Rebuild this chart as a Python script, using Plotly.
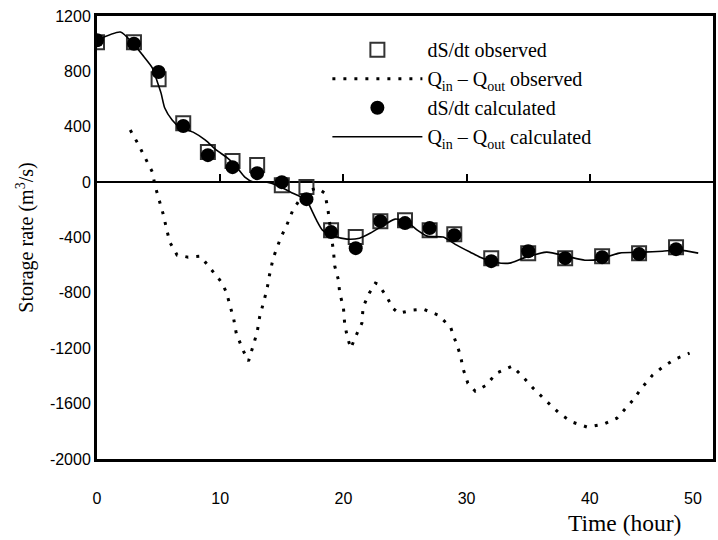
import plotly.graph_objects as go

t_obs = [0, 3, 5, 7, 9, 11, 13, 15, 17, 19, 21, 23, 25, 27, 29, 32, 35, 38, 41, 44, 47]
dsdt_observed = [1011, 1011, 744, 426, 217, 152, 123, -22, -36, -347, -397, -282,
                 -275, -347, -376, -549, -513, -549, -535, -513, -470]
dsdt_calculated = [1025, 1000, 795, 405, 195, 108, 65, 0, -123, -361, -477, -282,
                   -296, -332, -383, -571, -499, -549, -542, -520, -484]

t_qobs = [2.7, 3.3, 4.5, 4.7, 5.35, 5.6, 5.9, 6.5, 7.4, 8.4, 9.3, 10.1, 10.5, 10.8,
          11.1, 11.3, 11.85, 12.3, 12.7, 13.0, 13.2, 13.5, 13.8, 14.0, 14.3, 14.9,
          15.4, 15.9, 16.6, 17.3, 17.9, 18.5, 18.75, 19.2, 19.3, 19.6, 19.7, 20.0,
          20.1, 20.3, 20.6, 21.0, 21.5, 21.6, 22.1, 22.6, 22.8, 23.5, 24.0, 24.5,
          25.6, 26.5, 27.7, 28.7, 29.1, 29.5, 29.7, 30.1, 30.7, 31.6, 32.4, 33.7,
          34.6, 35.4, 36.4, 37.6, 38.6, 39.8, 41.1, 42.2, 43.5, 44.2, 45.1, 45.9,
          46.9, 48.1]
q_observed = [376, 282, 72, -22, -224, -325, -433, -527, -542, -535, -636, -722, -795,
              -889, -990, -1091, -1214, -1293, -1178, -1084, -975, -874, -773, -672,
              -549, -405, -311, -202, -108, -58, -43, -80, -202, -506, -607, -708,
              -802, -903, -1019, -1113, -1200, -1113, -1019, -903, -802, -730, -737,
              -824, -910, -947, -925, -918, -961, -1048, -1142, -1250, -1344, -1452,
              -1510, -1467, -1380, -1329, -1409, -1488, -1575, -1676, -1734, -1770,
              -1749, -1705, -1575, -1488, -1394, -1337, -1279, -1236]

t_qcalc = [0, 1.9, 2.9, 3.7, 4.5, 4.9, 5.2, 5.5, 6.1, 6.7, 7.8, 8.8, 9.7, 10.6, 11.4,
           12.0, 12.7, 13.8, 14.6, 15.9, 17.0, 17.5, 17.9, 18.3, 19.2, 20.3, 21.3,
           22.2, 23.0, 24.2, 25.2, 26.0, 26.8, 28.1, 29.2, 30.3, 31.1, 32.4, 33.5,
           34.6, 36.5, 38.1, 39.6, 40.8, 42.4, 44.3, 45.9, 47.3, 48.8]
q_calculated = [1026, 1084, 1004, 918, 824, 723, 643, 535, 448, 397, 361, 303, 231,
                173, 101, 36, 0, 0, -22, -80, -130, -217, -289, -347, -390, -412,
                -405, -368, -325, -267, -289, -347, -390, -397, -455, -506, -542,
                -580, -585, -549, -506, -535, -564, -556, -513, -506, -499, -491, -513]

y_ticks = [1200, 800, 400, 0, -400, -800, -1200, -1600, -2000]
y_ticklabels = ["1200", "800", "400", "0", "-400", "-800", "-1200", "-1600", "-2000"]
x_ticks = [0, 10, 20, 30, 40, 50]
# the last label is drawn inside the frame, as in the original figure
x_ticklabels = ["0", "10", "20", "30", "40", "50" + "&nbsp;" * 9]

SERIF = "Liberation Serif"
SANS = "Liberation Sans"

fig = go.Figure()
fig.add_trace(go.Scatter(
    x=t_obs, y=dsdt_observed, mode="markers", name="dS/dt observed",
    marker=dict(symbol="square-open", size=14, color="#333333",
                line=dict(width=2, color="#333333"))))
fig.add_trace(go.Scatter(
    x=t_qobs, y=q_observed, mode="lines",
    name="Q<sub>in</sub> – Q<sub>out</sub> observed",
    line=dict(color="black", width=3, dash="3px,8px")))
fig.add_trace(go.Scatter(
    x=t_obs, y=dsdt_calculated, mode="markers", name="dS/dt calculated",
    marker=dict(symbol="circle", size=14, color="black")))
fig.add_trace(go.Scatter(
    x=t_qcalc, y=q_calculated, mode="lines", xaxis="x2",
    name="Q<sub>in</sub> – Q<sub>out</sub> calculated",
    line=dict(color="black", width=1.6, shape="spline", smoothing=0.6)))

fig.update_layout(
    width=718, height=540,
    margin=dict(l=97, r=5, t=16, b=81, autoexpand=False),
    plot_bgcolor="white", paper_bgcolor="white",
    font=dict(family=SANS, color="black", size=16),
    showlegend=True,
    legend=dict(x=0.374, y=0.968, xanchor="left", yanchor="top",
                bgcolor="rgba(0,0,0,0)", borderwidth=0,
                font=dict(family=SERIF, size=20, color="black"),
                itemwidth=90, tracegroupgap=0),
    xaxis=dict(range=[0, 50], tickvals=x_ticks, ticktext=x_ticklabels,
               automargin=False,
               showgrid=False, zeroline=False, ticks="",
               showline=True, linecolor="black", linewidth=3, mirror=True,
               ticklabelstandoff=23, ticklabeloverflow="allow",
               tickfont=dict(family=SANS, size=16, color="black")),
    xaxis2=dict(matches="x", overlaying="x", anchor="free", position=0.625,
                automargin=False,
                side="bottom", tickvals=[10, 20, 30, 40], ticks="inside",
                ticklen=8, tickwidth=1.5, tickcolor="black",
                showticklabels=False, showgrid=False, zeroline=False,
                showline=False),
    yaxis=dict(range=[-2000, 1200], tickvals=y_ticks, ticktext=y_ticklabels,
               automargin=False,
               showgrid=False, zeroline=True, zerolinecolor="black",
               zerolinewidth=1.5, ticks="",
               showline=True, linecolor="black", linewidth=3, mirror=True,
               tickfont=dict(family=SANS, size=16, color="black"),
               title=dict(text="Storage rate (m<sup>3</sup>/s)",
                          font=dict(family=SERIF, size=20, color="black"),
                          standoff=11)),
    annotations=[dict(text="Time (hour)", xref="paper", yref="paper",
                      x=0.951, y=-0.144, xanchor="right", yanchor="middle",
                      showarrow=False,
                      font=dict(family=SERIF, size=23.5, color="black"))],
)

fig.write_html("out.html", config={"displayModeBar": False},
               post_script="document.body.style.margin='0px';")
